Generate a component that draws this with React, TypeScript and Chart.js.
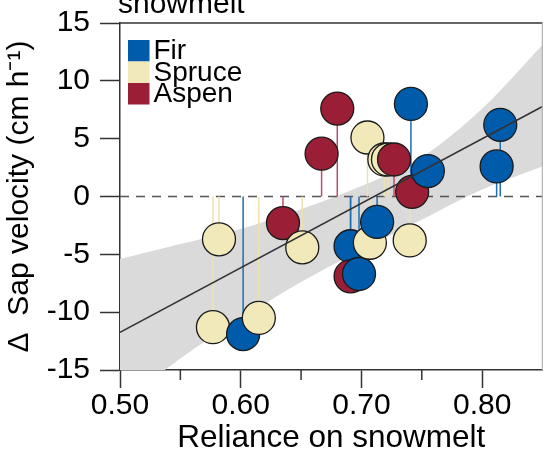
import { useEffect, useRef } from "react";
import { Chart, registerables } from "chart.js";

Chart.register(...registerables);

// ---- data ----
const speciesNames = ["Fir", "Spruce", "Aspen"];
const speciesColors = ["#005BAA", "#F2E9BA", "#9A1E36"];
const stemColors = ["#1F6DB5", "#EDE3AE", "#BC4D66"];

const firX = [0.602, 0.691, 0.698, 0.713, 0.741, 0.755, 0.812, 0.815];
const firY = [-11.9, -4.3, -6.7, -2.2, 8.0, 2.2, 2.6, 6.2];
const spruceX = [0.577, 0.582, 0.615, 0.651, 0.705, 0.707, 0.719, 0.722, 0.740];
const spruceY = [-11.3, -3.7, -10.5, -4.4, 5.1, -4.0, 3.2, 3.2, -3.8];
const aspenX = [0.635, 0.667, 0.680, 0.691, 0.727, 0.742];
const aspenY = [-2.3, 3.7, 7.6, -6.9, 3.2, 0.4];

const fitX = [0.5, 0.85];
const fitY = [-11.75, 7.78];

const bandX = [0.5, 0.55, 0.6, 0.65, 0.7, 0.75, 0.8, 0.85];
const bandUpper = [-5.4, -4.1, -2.8, -1.1, 0.9, 3.4, 7.6, 13.1];
const bandLower = [-18.1, -14.0, -10.6, -7.4, -4.6, -2.0, 0.6, 2.6];

const xMajorTicks = [0.5, 0.6, 0.7, 0.8];
const xMinorTicks = [0.55, 0.65, 0.75];
const yTicks = [-15, -10, -5, 0, 5, 10, 15];

const xMin = 0.5;
const xMax = 0.85;
const yMin = -15;
const yMax = 15;

const titleText = "snowmelt";
const xTitle = "Reliance on snowmelt";
const yTitle = "\u0394  Sap velocity (cm h\u207B\u00B9)";

const FONT = "'Liberation Sans', Arial, Helvetica, sans-serif";

export default function App() {
  const ref = useRef<HTMLCanvasElement | null>(null);

  useEffect(() => {
    const canvas = ref.current;
    if (!canvas) return;

    const groups = [
      { xs: firX, ys: firY, s: 0 },
      { xs: spruceX, ys: spruceY, s: 1 },
      { xs: aspenX, ys: aspenY, s: 2 },
    ];
    const allPts: { x: number; y: number; s: number }[] = [];
    groups.forEach((g) => g.xs.forEach((x, i) => allPts.push({ x, y: g.ys[i], s: g.s })));
    allPts.sort((a, b) => a.x - b.x);

    const stemData = (xs: number[], ys: number[]) => {
      const d: { x: number; y: number | null }[] = [];
      xs.forEach((x, i) => {
        d.push({ x, y: 0 });
        d.push({ x, y: ys[i] });
        d.push({ x, y: null });
      });
      return d;
    };

    const framePlugin = {
      id: "extras",
      afterDraw(chart: any) {
        const { ctx, chartArea } = chart;
        const xs = chart.scales.x;
        ctx.save();
        // frame top + right
        ctx.strokeStyle = "#333";
        ctx.lineWidth = 1.5;
        ctx.beginPath();
        ctx.moveTo(chartArea.left, chartArea.top);
        ctx.lineTo(chartArea.right, chartArea.top);
        ctx.stroke();
        ctx.strokeStyle = "#b5b5b5";
        ctx.beginPath();
        ctx.moveTo(chartArea.right, chartArea.top);
        ctx.lineTo(chartArea.right, chartArea.bottom);
        ctx.stroke();
        // minor ticks
        ctx.strokeStyle = "#333";
        ctx.lineWidth = 1.5;
        xMinorTicks.forEach((v) => {
          const px = xs.getPixelForValue(v);
          ctx.beginPath();
          ctx.moveTo(px, chartArea.bottom);
          ctx.lineTo(px, chartArea.bottom + 10);
          ctx.stroke();
        });
        // legend
        const lx = chartArea.left + 8;
        const ly = chartArea.top + 17;
        const box = 21.5;
        ctx.font = `28px ${FONT}`;
        ctx.textBaseline = "middle";
        ctx.textAlign = "left";
        speciesNames.forEach((name, i) => {
          ctx.fillStyle = speciesColors[i];
          ctx.fillRect(lx, ly + i * box, box, box);
          ctx.fillStyle = "#000";
          ctx.fillText(name, lx + box + 4, ly + i * box + box / 2 + 1);
        });
        // title (cropped)
        ctx.font = `30px ${FONT}`;
        ctx.textBaseline = "alphabetic";
        ctx.fillStyle = "#000";
        ctx.fillText(titleText, chartArea.left - 2, 13);
        ctx.restore();
      },
    };

    const chart = new Chart(canvas, {
      type: "scatter",
      data: {
        datasets: [
          {
            type: "line",
            data: fitX.map((x, i) => ({ x, y: fitY[i] })),
            borderColor: "#333",
            borderWidth: 1.5,
            pointRadius: 0,
            order: 0,
          } as any,
          {
            data: allPts.map((p) => ({ x: p.x, y: p.y })),
            backgroundColor: allPts.map((p) => speciesColors[p.s]),
            borderColor: "#1a1a1a",
            borderWidth: 1.3,
            pointRadius: 16.5,
            order: 1,
            clip: false,
          },
          ...groups.map((g) => ({
            data: stemData(g.xs, g.ys),
            showLine: true,
            spanGaps: false,
            borderColor: stemColors[g.s],
            borderWidth: 1.5,
            pointRadius: 0,
            order: 2,
          })),
          {
            data: [
              { x: xMin, y: 0 },
              { x: xMax, y: 0 },
            ],
            showLine: true,
            borderColor: "#555",
            borderWidth: 1.5,
            borderDash: [9, 7],
            pointRadius: 0,
            order: 3,
          },
          {
            data: bandX.map((x, i) => ({ x, y: bandUpper[i] })),
            showLine: true,
            borderWidth: 0,
            borderColor: "rgba(0,0,0,0)",
            backgroundColor: "#DADADA",
            pointRadius: 0,
            cubicInterpolationMode: "monotone",
            fill: "+1",
            order: 4,
          },
          {
            data: bandX.map((x, i) => ({ x, y: bandLower[i] })),
            showLine: true,
            borderWidth: 0,
            borderColor: "rgba(0,0,0,0)",
            pointRadius: 0,
            cubicInterpolationMode: "monotone",
            order: 5,
          },
        ] as any,
      },
      options: {
        responsive: false,
        animation: false,
        events: [],
        layout: { autoPadding: false, padding: { left: 0, right: 0.5, top: 23, bottom: 0 } },
        plugins: { legend: { display: false }, tooltip: { enabled: false } },
        scales: {
          x: {
            type: "linear",
            min: xMin,
            max: xMax,
            afterFit: (s: any) => {
              s.height = 89;
              s.paddingLeft = 0;
              s.paddingRight = 0;
            },
            afterBuildTicks: (s: any) => {
              s.ticks = xMajorTicks.map((v) => ({ value: v }));
            },
            ticks: {
              callback: (v: any) => Number(v).toFixed(2),
              font: { family: FONT, size: 30 },
              color: "#000",
              padding: 0,
              maxRotation: 0,
              autoSkip: false,
            },
            grid: {
              drawOnChartArea: false,
              drawTicks: true,
              tickLength: 18,
              tickColor: "#333",
              tickWidth: 1.5,
            },
            border: { display: true, color: "#333", width: 1.5 },
            title: {
              display: true,
              text: xTitle,
              font: { family: FONT, size: 31.5 },
              color: "#000",
              padding: { top: 0, bottom: 2 },
            },
          },
          y: {
            type: "linear",
            min: yMin,
            max: yMax,
            afterFit: (s: any) => {
              s.width = 120;
              s.paddingTop = 0;
              s.paddingBottom = 0;
            },
            afterBuildTicks: (s: any) => {
              s.ticks = yTicks.map((v) => ({ value: v }));
            },
            ticks: {
              font: { family: FONT, size: 30 },
              color: "#000",
              padding: 10,
              autoSkip: false,
            },
            grid: {
              drawOnChartArea: false,
              drawTicks: true,
              tickLength: 20,
              tickColor: "#333",
              tickWidth: 1.5,
            },
            border: { display: true, color: "#333", width: 1.5 },
            title: {
              display: true,
              text: yTitle,
              font: { family: FONT, size: 30 },
              color: "#000",
              padding: { top: 2, bottom: 0 },
            },
          },
        },
      },
      plugins: [framePlugin],
    } as any);

    return () => chart.destroy();
  }, []);

  return (
    <div style={{ position: "fixed", left: 0, top: 0, width: 543, height: 459, background: "#fff" }}>
      <canvas ref={ref} width={543} height={459} style={{ width: 543, height: 459, display: "block" }} />
    </div>
  );
}
